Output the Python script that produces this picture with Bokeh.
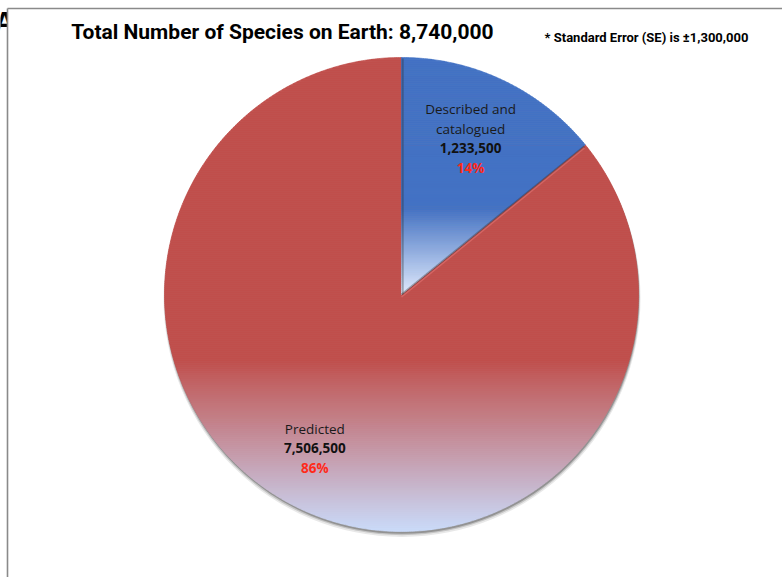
import numpy as np
from bokeh.plotting import figure
from bokeh.models import Range1d
from bokeh.core.properties import value
from bokeh.embed import file_html
from bokeh.resources import INLINE

# ---------------- data ----------------
categories = ["Described and\ncatalogued", "Predicted"]
species = [1233500, 7506500]
se_value = 1300000
slice_colors = [(68, 114, 196), (192, 80, 77)]
fade_colors = [(224, 235, 253), (202, 219, 250)]

total = sum(species)
title_text = "Total Number of Species on Earth: {:,}".format(total)
note_text = "* Standard Error (SE) is \u00b1{:,}".format(se_value)

# ---------------- layout constants ----------------
W, H = 782, 577
CX, CY, R = 401, 294, 237
label_radius = [0.72, 0.745]
label_angle_nudge = [-1.5, 4.0]
line_step = 19.5
fade_start = 0.64
TITLE_FONT = value("Roboto")
LABEL_FONT = value("'Open Sans', 'Noto Sans', sans-serif")

p = figure(width=W, height=H, x_range=Range1d(0, W), y_range=Range1d(H, 0),
           output_backend="svg", toolbar_location=None, min_border=0,
           x_axis_type=None, y_axis_type=None)
p.grid.visible = False
p.outline_line_color = None
p.background_fill_color = "white"
p.border_fill_color = "white"

# cropped panel letter behind the chart area
p.text(x=[4], y=[21], text=["A"], text_font=value("'Liberation Sans', sans-serif"),
       text_font_style="bold", text_font_size="29px", text_align="center",
       text_baseline="middle", text_color="black")
p.quad(left=[7], right=[W + 2], top=[8], bottom=[H + 2], fill_color="white", line_color=None)
p.segment(x0=[7, 7], y0=[8, 8], x1=[W + 2, 7], y1=[8, H + 2], line_color="#8a8a8a", line_width=1.6)


def pt(theta_deg, rad):
    t = np.radians(theta_deg)
    return CX + rad * np.sin(t), CY - rad * np.cos(t)


def clip_band(pts, y0, y1):
    def clip(pts, inside, yc):
        out = []
        n = len(pts)
        for i in range(n):
            cur, prev = pts[i], pts[i - 1]
            ci, pi = inside(cur), inside(prev)
            if ci:
                if not pi:
                    t = (yc - prev[1]) / (cur[1] - prev[1])
                    out.append((prev[0] + t * (cur[0] - prev[0]), yc))
                out.append(cur)
            elif pi:
                t = (yc - prev[1]) / (cur[1] - prev[1])
                out.append((prev[0] + t * (cur[0] - prev[0]), yc))
        return out
    pts = clip(pts, lambda q: q[1] >= y0, y0)
    if len(pts) < 3:
        return None
    pts = clip(pts, lambda q: q[1] <= y1, y1)
    if len(pts) < 3:
        return None
    return pts


# shadow
for off, extra, a in [(4, 1.5, 0.10), (3, 0.8, 0.18), (2, 0.2, 0.30)]:
    p.circle(x=[CX + 0.5], y=[CY + off], radius=R + extra, fill_color="#202020",
             fill_alpha=a, line_color=None)

# slices
fractions = [s / total for s in species]
starts = np.concatenate([[0], np.cumsum(fractions)[:-1]]) * 360
ends = np.cumsum(fractions) * 360

order = sorted(range(len(species)), key=lambda i: -species[i])
for i in order:
    a0, a1 = starts[i], ends[i]
    n_arc = max(int((a1 - a0) * 2), 8)
    arc = [pt(a, R) for a in np.linspace(a0, a1, n_arc)]
    poly = [(CX, CY)] + arc
    ys = [q[1] for q in poly]
    ymin, ymax = min(ys), max(ys)
    nstrips = int((ymax - ymin) / 2) + 1
    edges = np.linspace(ymin, ymax, nstrips + 1)
    xs_list, ys_list, cols = [], [], []
    base, fade = slice_colors[i], fade_colors[i]
    for k in range(nstrips):
        band = clip_band(poly, edges[k], edges[k + 1])
        if band is None:
            continue
        tmid = ((edges[k] + edges[k + 1]) / 2 - ymin) / (ymax - ymin)
        s = 0.0 if tmid < fade_start else (tmid - fade_start) / (1 - fade_start)
        c = tuple(int(round(base[j] + s * (fade[j] - base[j]))) for j in range(3))
        xs_list.append([q[0] for q in band])
        ys_list.append([q[1] for q in band])
        cols.append("#%02x%02x%02x" % c)
    p.patches(xs=xs_list, ys=ys_list, fill_color=cols, line_color=cols, line_width=0.7)

# bevel-like shading along the small slice's radial edges
small = order[-1]
for a, dx in [(starts[small], 1.2), (ends[small], 0.0)]:
    ex, ey = pt(a, R - 1)
    p.line(x=[CX + dx, ex + dx], y=[CY, ey + (1.0 if dx == 0 else 0)], line_color="#2a2a2a",
           line_alpha=0.35, line_width=2)
ex, ey = pt(ends[small], R - 1)
p.line(x=[CX, ex], y=[CY + 2.5, ey + 2.5], line_color="#f08080", line_alpha=0.45, line_width=1.5)

# labels
for i in range(len(species)):
    mid = (starts[i] + ends[i]) / 2 + label_angle_nudge[i]
    lx, ly = pt(mid, R * label_radius[i])
    lines = categories[i].split("\n")
    rows = [(t, "normal", "#1a1a1a") for t in lines]
    rows.append(("{:,}".format(species[i]), "bold", "#111111"))
    rows.append(("{:.0f}%".format(fractions[i] * 100), "bold", "#ff2a1a"))
    n = len(rows)
    for k, (t, style, col) in enumerate(rows):
        p.text(x=[lx], y=[ly + (k - (n - 1) / 2) * line_step], text=[t],
               text_font=LABEL_FONT, text_font_style=style, text_font_size="13.5px",
               text_color=col, text_align="center", text_baseline="middle")

# title and note
p.text(x=[282], y=[31], text=[title_text], text_font=TITLE_FONT, text_font_style="bold",
       text_font_size="21px", text_color="black", text_align="center", text_baseline="middle")
p.text(x=[646], y=[37], text=[note_text], text_font=TITLE_FONT, text_font_style="bold",
       text_font_size="13px", text_color="black", text_align="center", text_baseline="middle")

open("out.html", "w").write(file_html(p, INLINE))
